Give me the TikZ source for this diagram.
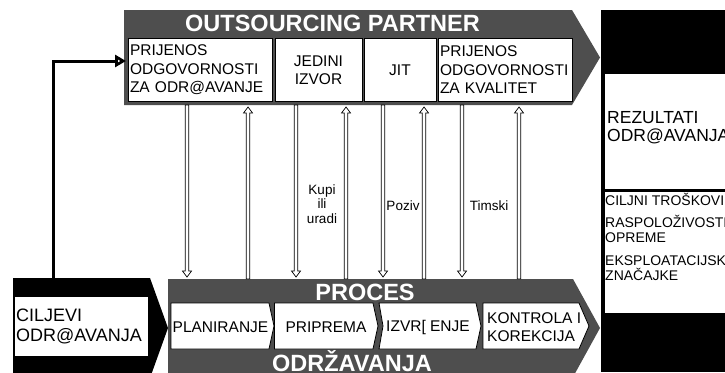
\documentclass[tikz,border=0pt]{standalone}
\usepackage{fontspec}
\setmainfont{Liberation Sans}
\usetikzlibrary{arrows.meta,calc}
\definecolor{bandgray}{RGB}{78,78,78}
\begin{document}
\begin{tikzpicture}[x=1pt,y=-1pt,
  hdr/.style={text=white,font=\bfseries\fontsize{23.5}{23.5}\selectfont,inner sep=0,anchor=base},
  tbox/.style={draw=black,line width=0.8pt,fill=white,minimum height=63pt,inner sep=2pt,font=\fontsize{15.5}{18.5}\selectfont},
  ptxt/.style={inner sep=0,font=\fontsize{15.5}{18}\selectfont},
  chev/.style={draw=black,line width=0.8pt,fill=white},
  lbl/.style={inner sep=0,font=\fontsize{13.5}{14.5}\selectfont,align=center},
  rtxt/.style={inner sep=0,anchor=base west,font=\fontsize{14}{15}\selectfont},
  harrow/.style={draw=black,fill=white,line width=0.7pt},
  arrup/.style={to path={let \p1=(\tikztostart),\p2=(\tikztotarget) in
     (\x1-1.8pt,\y1) -- (\x1-1.8pt,\y2-6pt) -- (\x1-4.5pt,\y2-6pt) -- (\x1,\y2) -- (\x1+4.5pt,\y2-6pt) -- (\x1+1.8pt,\y2-6pt) -- (\x1+1.8pt,\y1) -- cycle}},
  arrdown/.style={to path={let \p1=(\tikztostart),\p2=(\tikztotarget) in
     (\x1-1.8pt,\y1) -- (\x1-1.8pt,\y2+6pt) -- (\x1-4.5pt,\y2+6pt) -- (\x1,\y2) -- (\x1+4.5pt,\y2+6pt) -- (\x1+1.8pt,\y2+6pt) -- (\x1+1.8pt,\y1) -- cycle}},
]
\useasboundingbox (0,0) rectangle (725,372);
\clip (0,0) rectangle (725,372);
\fill[white] (0,0) rectangle (725,372);

% top band
\fill[bandgray] (124,10) -- (572,10) -- (600,57.5) -- (572,105) -- (124,105) -- cycle;
\node[hdr] (hop) at (332.5,31) {OUTSOURCING PARTNER};
\node[tbox,minimum width=144pt,text width=140pt,align=left] (pb1) at (200,70) {PRIJENOS\\ODGOVORNOSTI\\ZA ODR@AVANJE};
\node[tbox,minimum width=87pt,align=center] (pb2) at (318.5,70) {JEDINI\\IZVOR};
\node[tbox,minimum width=72pt] (pb3) at (400,70) {JIT};
\node[tbox,minimum width=134pt,text width=130pt,align=left] (pb4) at (505,70) {PRIJENOS\\ODGOVORNOSTI\\ZA KVALITET};

% bottom band
\fill[bandgray] (168,279) -- (573,279) -- (600,328) -- (573,377) -- (168,377) -- cycle;
\node[hdr] (hpr) at (365,300) {PROCES};
\node[hdr] (hod) at (352,371.5) {ODRŽAVANJA};
\draw[chev] (171,303) -- (269,303) -- (274,326) -- (269,349) -- (171,349) -- cycle;
\draw[chev] (274.5,303) -- (373,303) -- (378,326) -- (373,349) -- (274.5,349) -- cycle;
\draw[chev] (379,303) -- (476,303) -- (481,326) -- (476,349) -- (379,349) -- (383,326) -- cycle;
\draw[chev] (483,303) -- (579,303) -- (589,326) -- (579,349) -- (483,349) -- cycle;
\node[ptxt] (pl) at (220.5,327.5) {PLANIRANJE};
\node[ptxt] (pp) at (326,327.5) {PRIPREMA};
\node[ptxt] (pi) at (428,327.5) {IZVR[ ENJE};
\node[ptxt,align=left,anchor=west] (pk) at (487,327) {KONTROLA I\\KOREKCIJA};

% left goal box
\fill[black] (13,278) -- (150,278) -- (168,328) -- (150,378) -- (13,378) -- cycle;
\fill[white] (15,297) rectangle (148,356);
\node[inner sep=0,anchor=west,align=left,font=\fontsize{18}{20}\selectfont] (cil) at (16,326.5) {CILJEVI\\ODR@AVANJA};

% right results box
\fill[black] (601,10) rectangle (730,372);
\fill[white] (605,74) rectangle (730,188.5);
\fill[white] (605,191.5) rectangle (730,313);
\node[inner sep=0,anchor=west,align=left,font=\fontsize{17.5}{18}\selectfont] (rez) at (607,127.5) {REZULTATI\\ODR@AVANJA};
\node[rtxt] (ct) at (605,205) {CILJNI TROŠKOVI};
\node[rtxt] (ra) at (605,227) {RASPOLOŽIVOSTI};
\node[rtxt] (op) at (605,242) {OPREME};
\node[rtxt] (ek) at (605,265) {EKSPLOATACIJSKE};
\node[rtxt] (zn) at (605,280) {ZNAČAJKE};

% feedback connector
\coordinate (cilTop) at (53,278);
\coordinate (fbEnd) at (126,61);
\draw[line width=3pt,-{Triangle[open,length=11pt,width=12pt]}] (cilTop) |- (fbEnd);

% hollow vertical arrows
\foreach \xx/\k in {187/1,296/2,383/3,462/4}{
  \coordinate (ds\k) at (\xx,105);
  \coordinate (de\k) at (\xx,277);
}
\foreach \k in {1,2,3,4}{
  \path[harrow] (ds\k) to[arrdown] (de\k);
}
\foreach \xx/\k in {248/1,346/2,424/3,519/4}{
  \coordinate (us\k) at (\xx,279);
  \coordinate (ue\k) at (\xx,107);
}
\foreach \k in {1,2,3,4}{
  \path[harrow] (us\k) to[arrup] (ue\k);
}

\node[lbl] (kupi) at (322,204) {Kupi\\ili\\uradi};
\node[lbl,anchor=base] (poziv) at (403,210) {Poziv};
\node[lbl,anchor=base] (timski) at (489,210) {Timski};
\end{tikzpicture}
\end{document}
